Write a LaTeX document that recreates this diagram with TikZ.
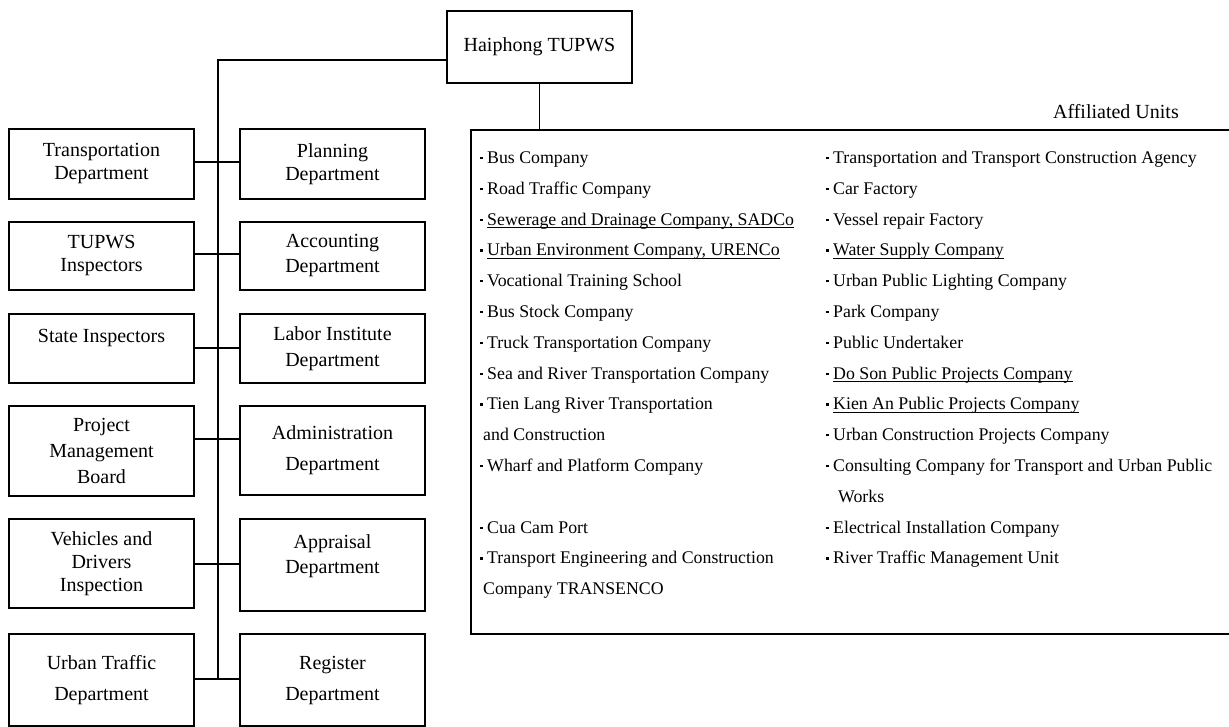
\documentclass[tikz,border=0pt]{standalone}
\usepackage{fontspec}
\setmainfont{Liberation Serif}
\newcommand{\bul}{\raisebox{4.3pt}{\rule{2.3pt}{2.3pt}}\hspace{4.7pt}}
\newcommand{\undl}[1]{\setbox0\hbox{#1}\rlap{\rule[-2.5pt]{\wd0}{0.9pt}}\box0}
\begin{document}
\begin{tikzpicture}[x=1pt,y=-1pt,
  box/.style={draw, line width=1.5pt, minimum width=185pt, inner sep=0pt, align=center, font=\fontsize{20}{23}\selectfont},
  item/.style={anchor=base west, inner sep=0pt, font=\fontsize{17.8}{20}\selectfont},
  link/.style={line width=1.2pt}]
\useasboundingbox (0,0) rectangle (1229,726);
\clip (0,0) rectangle (1229,726);
\node[box, minimum height=72pt] (hq) at (539.5,47) {Haiphong TUPWS};
\node[box, minimum height=70pt] (tran) at (101.5,164) {Transportation\\Department};
\node[box, minimum height=70pt] (plan) at (332.5,164) {Planning\\Department};
\node[box, minimum height=68pt] (insp) at (101.5,256) {TUPWS\\Inspectors};
\node[box, minimum height=68pt] (acct) at (332.5,256) {Accounting\\[2pt]Department};
\node[box, minimum height=69pt, text depth=26pt] (state) at (101.5,348.5) {State Inspectors};
\node[box, minimum height=69pt] (labor) at (332.5,348.5) {Labor Institute\\[3pt]Department};
\node[box, minimum height=90pt] (pmb) at (101.5,451) {Project\\[3pt]Management\\[3pt]Board};
\node[box, minimum height=89pt] (admin) at (332.5,450.5) {Administration\\[8pt]Department};
\node[box, minimum height=89pt] (vdi) at (101.5,563.5) {Vehicles and\\Drivers\\Inspection};
\node[box, minimum height=92pt, text depth=22pt] (appr) at (332.5,565) {Appraisal\\[2pt]Department};
\node[box, minimum height=92pt] (utd) at (101.5,680) {Urban Traffic\\[8pt]Department};
\node[box, minimum height=92pt] (reg) at (332.5,680) {Register\\[8pt]Department};
\node[draw, line width=1.5pt, anchor=north west, minimum width=800pt, minimum height=504pt, inner sep=0pt] (aff) at (470,129) {};
\node[anchor=base east, inner sep=0pt, font=\fontsize{20}{23}\selectfont] (afft) at (1179,118.3) {Affiliated Units};
\coordinate (top) at (218,60);
\coordinate (r1) at (218,162);
\coordinate (r2) at (218,254);
\coordinate (r3) at (218,348);
\coordinate (r4) at (218,439);
\coordinate (r5) at (218,564);
\coordinate (r6) at (218,679);
\draw[link] (hq.west |- top) -- (top) -- (r6);
\draw[link] (r1 -| tran.east) -- (r1 -| plan.west);
\draw[link] (r2 -| insp.east) -- (r2 -| acct.west);
\draw[link] (r3 -| state.east) -- (r3 -| labor.west);
\draw[link] (r4 -| pmb.east) -- (r4 -| admin.west);
\draw[link] (r5 -| vdi.east) -- (r5 -| appr.west);
\draw[link] (r6 -| utd.east) -- (r6 -| reg.west);
\draw[link] (hq.south) -- (hq.south |- aff.north);
\node[item] (a1) at (480,163.5) {\bul Bus Company};
\node[item] (a2) at (480,194.3) {\bul Road Traffic Company};
\node[item] (a3) at (480,225.1) {\bul \undl{Sewerage and Drainage Company, SADCo}};
\node[item] (a4) at (480,255.9) {\bul \undl{Urban Environment Company, URENCo}};
\node[item] (a5) at (480,286.7) {\bul Vocational Training School};
\node[item] (a6) at (480,317.5) {\bul Bus Stock Company};
\node[item] (a7) at (480,348.3) {\bul Truck Transportation Company};
\node[item] (a8) at (480,379.1) {\bul Sea and River Transportation Company};
\node[item] (a9) at (480,409.9) {\bul Tien Lang River Transportation};
\node[item] (a10) at (483,440.7) {and Construction};
\node[item] (a11) at (480,471.5) {\bul Wharf and Platform Company};
\node[item] (a12) at (480,533.1) {\bul Cua Cam Port};
\node[item] (a13) at (480,563.9) {\bul Transport Engineering and Construction};
\node[item] (a14) at (483,594.7) {Company TRANSENCO};
\node[item] (b1) at (826,163.5) {\bul Transportation and Transport Construction Agency};
\node[item] (b2) at (826,194.3) {\bul Car Factory};
\node[item] (b3) at (826,225.1) {\bul Vessel repair Factory};
\node[item] (b4) at (826,255.9) {\bul \undl{Water Supply Company}};
\node[item] (b5) at (826,286.7) {\bul Urban Public Lighting Company};
\node[item] (b6) at (826,317.5) {\bul Park Company};
\node[item] (b7) at (826,348.3) {\bul Public Undertaker};
\node[item] (b8) at (826,379.1) {\bul \undl{Do Son Public Projects Company}};
\node[item] (b9) at (826,409.9) {\bul \undl{Kien An Public Projects Company}};
\node[item] (b10) at (826,440.7) {\bul Urban Construction Projects Company};
\node[item] (b11) at (826,471.5) {\bul Consulting Company for Transport and Urban Public};
\node[item] (b12) at (838,502.3) {Works};
\node[item] (b13) at (826,533.1) {\bul Electrical Installation Company};
\node[item] (b14) at (826,563.9) {\bul River Traffic Management Unit};
\end{tikzpicture}
\end{document}
